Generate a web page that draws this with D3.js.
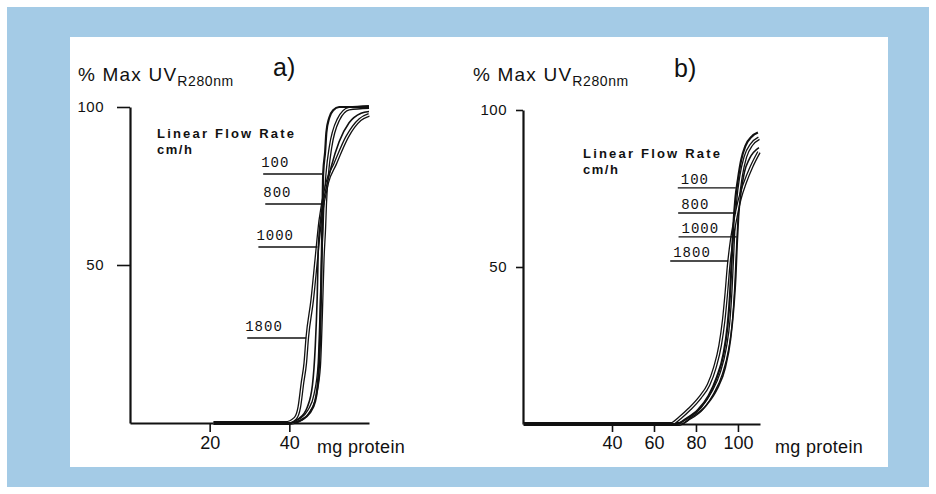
<!DOCTYPE html>
<html>
<head>
<meta charset="utf-8">
<script src="https://cdn.jsdelivr.net/npm/d3@7/dist/d3.min.js"></script>
<style>
  html, body { margin: 0; padding: 0; background: #fff; }
  svg { display: block; }
  text { font-family: "Liberation Sans", Arial, sans-serif; fill: #111; }
</style>
</head>
<body>
<svg id="chart" width="936" height="494"></svg>
<script>
// ---------------- data ----------------
const flowRates = ["100", "800", "1000", "1800"];
const yTickValues = [50, 100];
const aXTickValues = [20, 40];
const bXTickValues = [40, 60, 80, 100];

// panel a) : [mg protein, % max UV]
const aCurve100 = [[21,0],[40.5,0],[43,1],[45,3],[46.5,7],[47.3,15],[47.8,30],[48.1,50],[48.3,65],[48.5,79],[49,86],[49.3,92],[50,96.5],[51,99],[52.5,100],[60,100]];
const aCurve800 = [[21,0],[40,0],[43,1.2],[45,4],[46.5,9],[47.5,18],[48,35],[48.4,52],[48.8,62],[49,69],[49.6,80],[50.3,87],[52.3,96],[55,99.5],[60,100]];
const aCurve1000 = [[21,0],[39.5,0],[42.5,1.5],[44.5,5],[45.8,12],[46.5,24],[47,40],[47.3,56],[48,66],[49.2,74],[50.5,81],[52.5,89],[55,95],[58,98],[60,98.6]];
const aCurve1800 = [[21,0],[39,0],[41.5,1.5],[42.5,5],[43.3,12.7],[44,19],[44.5,27],[45.75,39],[46.75,51.6],[47.75,64],[49.5,76],[51.5,82],[54.5,90.5],[57.75,96],[60,97.5]];
const aLabelLevels = [78.8, 69.3, 55.7, 26.9];

// panel b)
const bCurve100 = [[-2,0],[71,0],[75,1.5],[81,4.5],[86,9],[90,15],[93,22],[95,31],[96.2,41],[97,52],[97.8,63],[98.8,72],[100,78],[101.5,84],[103.5,88.5],[106.5,91.5],[109.5,92.8]];
const bCurve800 = [[-2,0],[72,0],[76,1.5],[83,5],[88,10],[92,16],[95,24],[96.8,33],[97.8,43],[98.5,53],[99.2,63],[100,71],[101.5,79],[103.5,85],[106.5,89],[110,91]];
const bCurve1000 = [[-2,0],[73,0],[77.5,2],[85,6],[90,11],[94,18],[96.5,27],[98,37],[99,47],[99.6,57],[100.3,66],[101.5,74],[103,80],[105.5,84.5],[110,88]];
const bCurve1800 = [[-2,0],[68,0],[72.4,2],[77,4.8],[82,8.5],[86,12.5],[89,18],[91.5,25],[93.2,33],[94.5,42],[95.5,50],[97,58.5],[99,66],[101,72],[103.3,76.7],[106.5,82],[110,86.6]];
const bLabelLevels = [75.2, 67.2, 59.6, 51.9];

// ---------------- layout ----------------
const svg = d3.select("#chart");
svg.append("rect").attr("x", 7).attr("y", 7).attr("width", 922).attr("height", 480).attr("fill", "#a4cbe6");
svg.append("rect").attr("x", 70).attr("y", 37).attr("width", 818).attr("height", 430).attr("fill", "#fff");

const panels = [
  {
    title: "a)", titleX: 273, titleY: 76,
    xDomain: [0, 60], xRange: [130, 369], yRange: [423, 107],
    xTicks: aXTickValues, xTickSize: 9, xTickPad: 4,
    yTickSize: 13, yTickPad: 13,
    curves: [aCurve100, aCurve800, aCurve1000, aCurve1800],
    levels: aLabelLevels,
    leaderLen: 59, textDx: -2, textDy: -7,
    yTitleX: 78, yTitleY: 81,
    legendX: 157, legendY: 138,
    unitX: 317, unitY: 453
  },
  {
    title: "b)", titleX: 674, titleY: 77,
    xDomain: [-2.4, 110.5], xRange: [523, 760], yRange: [424, 110],
    xTicks: bXTickValues, xTickSize: 8, xTickPad: 4,
    yTickSize: 7, yTickPad: 9,
    curves: [bCurve100, bCurve800, bCurve1000, bCurve1800],
    levels: bLabelLevels,
    leaderLen: 58, textDx: 3, textDy: -4,
    yTitleX: 473, yTitleY: 81,
    legendX: 583, legendY: 158,
    unitX: 775, unitY: 453
  }
];

// drawing order: hollow lines first, solid lines on top
const styles = [
  { outer: 2.2, inner: 0, order: 2 },
  { outer: 3.8, inner: 1.2, order: 0 },
  { outer: 1.6, inner: 0, order: 3 },
  { outer: 3.8, inner: 1.2, order: 1 }
];

function xAtLevel(curve, level) {
  for (let i = 1; i < curve.length; i++) {
    const [x0, y0] = curve[i - 1], [x1, y1] = curve[i];
    if ((y0 - level) * (y1 - level) <= 0 && y1 !== y0) {
      return x0 + (level - y0) / (y1 - y0) * (x1 - x0);
    }
  }
  return curve[curve.length - 1][0];
}

panels.forEach(p => {
  const x = d3.scaleLinear().domain(p.xDomain).range(p.xRange);
  const y = d3.scaleLinear().domain([0, 100]).range(p.yRange);
  const g = svg.append("g");

  // axes
  const yAxis = d3.axisLeft(y).tickValues(yTickValues).tickSize(p.yTickSize).tickSizeOuter(0).tickPadding(p.yTickPad).tickFormat(d3.format("d"));
  const ya = g.append("g").attr("transform", `translate(${p.xRange[0]},0)`).call(yAxis);
  const xAxis = d3.axisBottom(x).tickValues(p.xTicks).tickSize(p.xTickSize).tickSizeOuter(0).tickPadding(p.xTickPad).tickFormat(d3.format("d"));
  const xa = g.append("g").attr("transform", `translate(0,${p.yRange[0]})`).call(xAxis);
  [ya, xa].forEach(a => {
    a.select(".domain").attr("stroke", "#111").attr("stroke-width", 2.2);
    a.selectAll(".tick line").attr("stroke", "#111").attr("stroke-width", 1.6);
    a.selectAll("text").style("font-family", "Liberation Sans, Arial, sans-serif").attr("fill", "#111");
  });
  ya.selectAll("text").style("font-size", "15px").attr("letter-spacing", "0.5px");
  xa.selectAll("text").style("font-size", "18px");

  // curves
  const line = d3.line().x(d => x(d[0])).y(d => y(d[1])).curve(d3.curveMonotoneX);
  const order = p.curves.map((c, i) => i).sort((a, b) => styles[a].order - styles[b].order);
  order.forEach(i => {
    const c = p.curves[i], s = styles[i];
    g.append("path").attr("d", line(c)).attr("fill", "none").attr("stroke", "#111").attr("stroke-width", s.outer).attr("stroke-linejoin", "round");
    if (s.inner > 0) {
      g.append("path").attr("d", line(c)).attr("fill", "none").attr("stroke", "#fff").attr("stroke-width", s.inner).attr("stroke-linejoin", "round");
    }
  });

  // flow-rate labels with leader lines
  p.curves.forEach((c, i) => {
    const lvl = p.levels[i];
    const ex = x(xAtLevel(c, lvl)) - 1;
    const ey = y(lvl);
    const sx = ex - p.leaderLen;
    g.append("line").attr("x1", sx).attr("x2", ex).attr("y1", ey).attr("y2", ey).attr("stroke", "#111").attr("stroke-width", 1.4);
    g.append("text").attr("x", sx + p.textDx).attr("y", ey + p.textDy)
      .style("font-family", "Liberation Mono, monospace").style("font-size", "14px").attr("letter-spacing", "1px")
      .text(flowRates[i]);
  });

  // titles
  g.append("text").attr("x", p.titleX).attr("y", p.titleY).style("font-size", "25px").text(p.title);
  const yt = g.append("text").attr("x", p.yTitleX).attr("y", p.yTitleY).style("font-size", "19px").attr("letter-spacing", "1.2px");
  yt.append("tspan").text("% Max UV");
  yt.append("tspan").attr("dy", 5).style("font-size", "14px").attr("letter-spacing", "0.6px").text("R280nm");
  g.append("text").attr("x", p.legendX).attr("y", p.legendY).style("font-size", "13px").style("font-weight", "bold").attr("letter-spacing", "2.2px").text("Linear Flow Rate");
  g.append("text").attr("x", p.legendX).attr("y", p.legendY + 16).style("font-size", "13px").style("font-weight", "bold").attr("letter-spacing", "1.5px").text("cm/h");
  g.append("text").attr("x", p.unitX).attr("y", p.unitY).style("font-size", "18px").attr("letter-spacing", "0.3px").text("mg protein");
});
</script>
</body>
</html>
